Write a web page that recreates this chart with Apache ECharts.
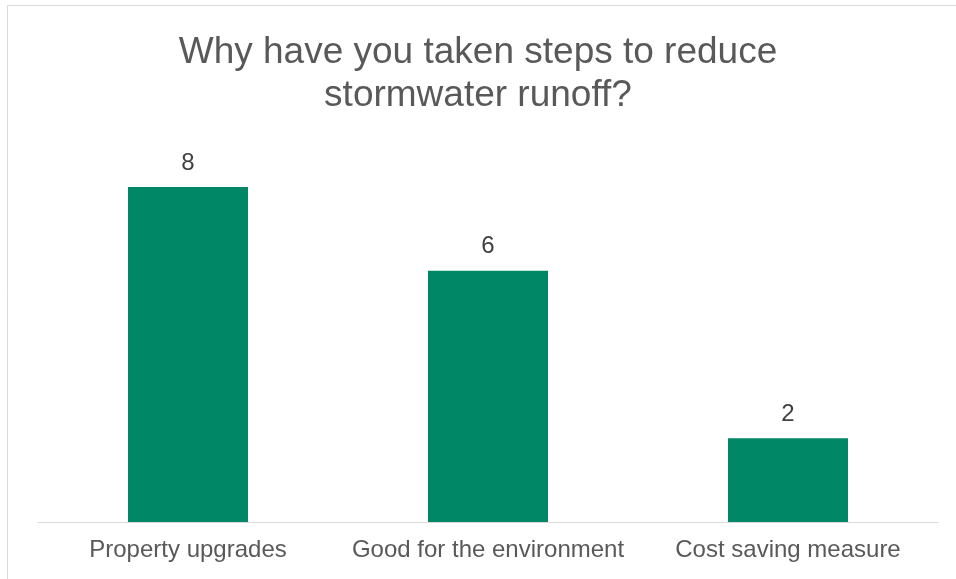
<!DOCTYPE html>
<html><head><meta charset="utf-8">
<script src="https://cdn.jsdelivr.net/npm/echarts@6/dist/echarts.min.js"></script>
<style>html,body{margin:0;padding:0;background:#fff}#c{width:956px;height:579px}</style>
</head><body><div id="c"></div>
<script>
const categories = ["Property upgrades", "Good for the environment", "Cost saving measure"];
const values = [8, 6, 2];
const titleText = "Why have you taken steps to reduce\nstormwater runoff?";

const chart = echarts.init(document.getElementById('c'));
chart.setOption({
  animation: false,
  backgroundColor: '#fff',
  graphic: [{type:'rect', shape:{x:7.5,y:5.5,width:1000,height:1000}, style:{fill:'none', stroke:'#d9d9d9', lineWidth:1}, silent:true}],
  title: {text: titleText, left: 'center', top: 26, textStyle: {fontFamily:'Liberation Sans', fontSize: 37, fontWeight:'normal', color:'#595959', lineHeight: 43}},
  grid: {left: 38, right: 18, top: 145, bottom: 57},
  xAxis: {type:'category', data: categories, axisLine:{lineStyle:{color:'#d9d9d9', width:1}}, axisTick:{show:false},
    axisLabel:{interval:0, hideOverlap:false, fontFamily:'Liberation Sans', fontSize:24, color:'#595959', margin:16}},
  yAxis: {type:'value', min:0, max:9, show:false, splitLine:{show:false}},
  series: [{type:'bar', data: values, barWidth:'40%', itemStyle:{color:'#008766'},
    label:{show:true, position:'top', distance:12, fontFamily:'Liberation Sans', fontSize:24, color:'#404040'}}]
});
</script></body></html>
